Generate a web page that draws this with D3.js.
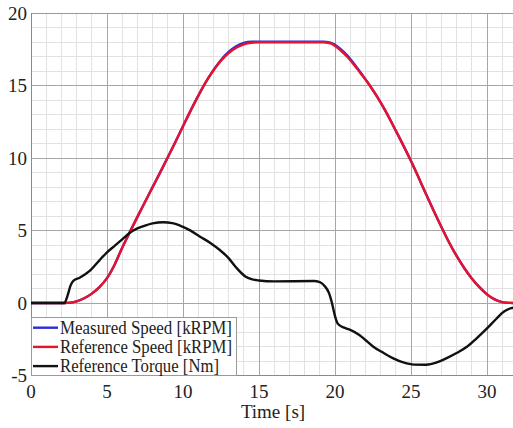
<!DOCTYPE html>
<html>
<head>
<meta charset="utf-8">
<script src="https://cdn.jsdelivr.net/npm/d3@7"></script>
<style>
    body { margin: 0; background: #fff; }
    svg { display: block; }
    svg text { font-family: 'Liberation Serif', 'Tinos', 'Noto Serif', 'DejaVu Serif', 'Nimbus Roman', 'FreeSerif', 'Times', serif; }
</style>
</head>
<body>
<div class="svgpainter"></div>
<script>

// values
const speedT = [0, 2.2, 2.6, 3.0, 3.5, 4.0, 4.5, 5.0, 5.5, 6.0, 6.55, 7.0, 7.5, 8.0, 8.5, 9.0, 9.5, 10.0, 10.5, 11.0, 11.5, 12.0, 12.5, 13.0, 13.5, 14.0, 14.5, 15.0, 19.2, 19.7, 20.3, 20.8, 21.3, 21.8, 22.3, 22.8, 23.3, 24.0, 25.0, 26.0, 26.5, 27.0, 27.5, 28.0, 28.5, 29.0, 29.5, 30.0, 30.5, 31.0, 31.5, 32]
const refSpeed = [0, 0, 0.03, 0.12, 0.33, 0.65, 1.1, 1.72, 2.65, 3.82, 5.0, 5.95, 6.98, 8.0, 9.02, 10.06, 11.12, 12.2, 13.28, 14.3, 15.25, 16.05, 16.72, 17.25, 17.62, 17.86, 17.97, 18.0, 18.0, 17.92, 17.5, 17.0, 16.38, 15.7, 15.0, 14.2, 13.3, 11.9, 9.8, 7.5, 6.35, 5.25, 4.2, 3.25, 2.42, 1.7, 1.1, 0.6, 0.25, 0.07, 0.01, 0]
const measSpeed = [0, 0, 0.03, 0.12, 0.33, 0.65, 1.1, 1.72, 2.65, 3.82, 5.0, 5.95, 6.98, 8.0, 9.02, 10.06, 11.12, 12.2, 13.28, 14.3, 15.25, 16.08, 16.78, 17.33, 17.72, 17.95, 18.04, 18.04, 18.04, 17.98, 17.6, 17.1, 16.45, 15.75, 15.0, 14.2, 13.3, 11.9, 9.8, 7.5, 6.35, 5.25, 4.2, 3.25, 2.42, 1.7, 1.1, 0.6, 0.25, 0.07, 0.01, 0]

const torqueT = [0, 2.2, 2.4, 2.6, 2.8, 3.2, 3.9, 4.5, 5.0, 5.5, 6.0, 6.5, 7.0, 7.5, 8.0, 8.7, 9.3, 9.8, 10.5, 11.1, 11.8, 12.4, 13.0, 13.5, 14.1, 14.5, 15.0, 16.0, 18.6, 19.0, 19.3, 19.6, 19.8, 20.0, 20.2, 20.6, 21.0, 21.6, 22.0, 22.5, 23.2, 23.8, 24.5, 25.2, 26.0, 26.7, 27.35, 28.0, 28.7, 29.3, 30.0, 30.6, 31.1, 31.6, 32]
const refTorque = [0, 0, 0.5, 1.2, 1.55, 1.75, 2.25, 2.95, 3.5, 3.95, 4.4, 4.85, 5.15, 5.35, 5.5, 5.58, 5.52, 5.35, 5.0, 4.6, 4.15, 3.68, 3.1, 2.45, 1.84, 1.65, 1.56, 1.5, 1.52, 1.45, 1.2, 0.7, 0.0, -0.9, -1.45, -1.7, -1.85, -2.2, -2.55, -3.0, -3.45, -3.8, -4.1, -4.25, -4.26, -4.1, -3.8, -3.45, -3.0, -2.45, -1.75, -1.1, -0.6, -0.35, -0.3]

const xTicks = [0, 5, 10, 15, 20, 25, 30]
const yTicks = [-5, 0, 5, 10, 15, 20]
const legendNames = ['Measured Speed [kRPM]', 'Reference Speed [kRPM]', 'Reference Torque [Nm]']
const legendCols = ['#2b2bdc', '#e8132b', '#111111']

const W = 513, H = 428
const pLeft = 31, pTop = 13.3, pBottom = 375.5

let svg = d3.select('.svgpainter')
    .append('svg:svg')
    .attr('width', W)
    .attr('height', H)

let x = d3.scaleLinear().domain([0, 32]).range([pLeft, pLeft + 32 * 15.2])
let y = d3.scaleLinear().domain([-5, 20]).range([pBottom, pTop])

function gridLines(svg, vals, vertical, col, width) {
    svg.append('g')
        .selectAll('line')
        .data(vals)
        .join('line')
        .attr('x1', d => vertical ? x(d) : pLeft)
        .attr('x2', d => vertical ? x(d) : W)
        .attr('y1', d => vertical ? pTop : y(d))
        .attr('y2', d => vertical ? pBottom : y(d))
        .attr('stroke', col)
        .attr('stroke-width', width)
        .attr('shape-rendering', 'crispEdges')
}

// minor grid every 1, major every 5
gridLines(svg, d3.range(1, 32).filter(d => d % 5 !== 0), true, '#e2e2e2', 1)
gridLines(svg, d3.range(-4, 20).filter(d => d % 5 !== 0), false, '#e2e2e2', 1)
gridLines(svg, xTicks.filter(d => d > 0), true, '#a6a6a6', 1)
gridLines(svg, yTicks.filter(d => d > -5 && d < 20), false, '#a6a6a6', 1)

// frame
svg.append('line').attr('x1', pLeft).attr('x2', W).attr('y1', pTop).attr('y2', pTop)
    .attr('stroke', '#9a9a9a').attr('shape-rendering', 'crispEdges')
svg.append('line').attr('x1', pLeft).attr('x2', W).attr('y1', pBottom).attr('y2', pBottom)
    .attr('stroke', '#8a8a8a').attr('shape-rendering', 'crispEdges')
svg.append('line').attr('x1', pLeft).attr('x2', pLeft).attr('y1', pTop).attr('y2', pBottom)
    .attr('stroke', '#8a8a8a').attr('shape-rendering', 'crispEdges')

// tick labels
svg.append('g')
    .selectAll('text')
    .data(yTicks)
    .join('text')
    .attr('x', pLeft - 4)
    .attr('y', d => y(d) + 6.5)
    .attr('text-anchor', 'end')
    .attr('font-size', 19)
    .attr('fill', '#222')
    .text(d => d)

svg.append('g')
    .selectAll('text')
    .data(xTicks)
    .join('text')
    .attr('x', d => x(d))
    .attr('y', 398)
    .attr('text-anchor', 'middle')
    .attr('font-size', 19)
    .attr('fill', '#222')
    .text(d => d)

svg.append('text')
    .attr('x', 273)
    .attr('y', 418)
    .attr('text-anchor', 'middle')
    .attr('font-size', 19)
    .attr('fill', '#222')
    .text('Time [s]')

// curves
svg.append('clipPath').attr('id', 'plotclip')
    .append('rect').attr('x', pLeft).attr('y', pTop).attr('width', W - pLeft).attr('height', pBottom - pTop)

function drawCurve(svg, ts, vs, col) {
    let line = d3.line()
        .x((d, i) => x(ts[i]))
        .y(d => y(d))
        .curve(d3.curveMonotoneX)
    svg.append('path')
        .attr('d', line(vs))
        .attr('fill', 'none')
        .attr('stroke', col)
        .attr('stroke-width', 2.4)
        .attr('stroke-linejoin', 'round')
        .attr('clip-path', 'url(#plotclip)')
}

drawCurve(svg, speedT, measSpeed, legendCols[0])
drawCurve(svg, speedT, refSpeed, legendCols[1])
drawCurve(svg, torqueT, refTorque, legendCols[2])

// legend
let lg = svg.append('g')
lg.append('rect')
    .attr('x', pLeft + 0.5)
    .attr('y', 317.5)
    .attr('width', 205)
    .attr('height', pBottom - 317.5)
    .attr('fill', '#fff')
    .attr('stroke', '#9a9a9a')
    .attr('stroke-width', 1)

legendNames.forEach((name, i) => {
    let ly = 327.7 + i * 19.2
    lg.append('line')
        .attr('x1', 33).attr('x2', 58)
        .attr('y1', ly).attr('y2', ly)
        .attr('stroke', legendCols[i])
        .attr('stroke-width', 2.4)
    lg.append('text')
        .attr('x', 60)
        .attr('y', ly + 6)
        .attr('font-size', 18)
        .attr('fill', '#222')
        .attr('textLength', i === 2 ? 159 : 172)
        .attr('lengthAdjust', 'spacingAndGlyphs')
        .text(name)
})

</script>
</body>
</html>
